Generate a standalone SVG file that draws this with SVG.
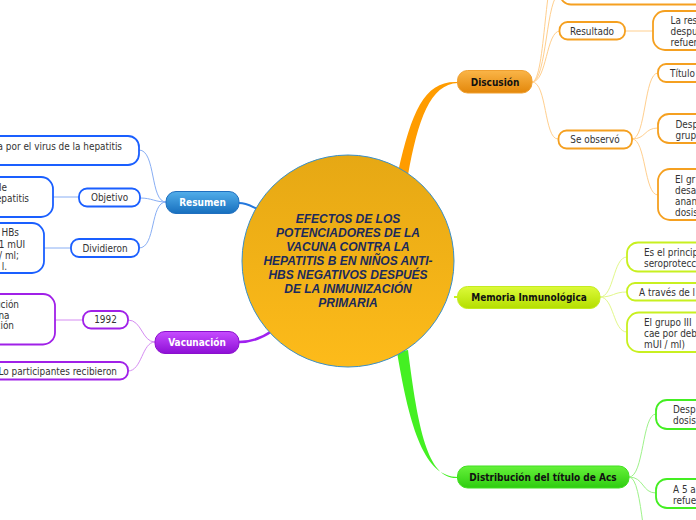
<svg xmlns="http://www.w3.org/2000/svg" width="696" height="520" viewBox="0 0 696 520">
<defs>
<linearGradient id="gC" x1="0" y1="0" x2="0" y2="1"><stop offset="0" stop-color="#E6A814"/><stop offset="1" stop-color="#FDBB1A"/></linearGradient>
<linearGradient id="gB" x1="0" y1="0" x2="0" y2="1"><stop offset="0" stop-color="#52AEEA"/><stop offset="1" stop-color="#176FBE"/></linearGradient>
<linearGradient id="gP" x1="0" y1="0" x2="0" y2="1"><stop offset="0" stop-color="#C64CFF"/><stop offset="1" stop-color="#8E0FD6"/></linearGradient>
<linearGradient id="gO" x1="0" y1="0" x2="0" y2="1"><stop offset="0" stop-color="#FAB548"/><stop offset="1" stop-color="#E3870A"/></linearGradient>
<linearGradient id="gY" x1="0" y1="0" x2="0" y2="1"><stop offset="0" stop-color="#DDFA3A"/><stop offset="1" stop-color="#B4DE00"/></linearGradient>
<linearGradient id="gG" x1="0" y1="0" x2="0" y2="1"><stop offset="0" stop-color="#66F23A"/><stop offset="1" stop-color="#2ECC10"/></linearGradient>
</defs>
<style>
text{font-family:"DejaVu Sans Condensed","DejaVu Sans",sans-serif;font-size:9.9px;fill:#333}
.m{font-weight:bold;font-size:10px;fill:#111;text-anchor:middle}
.mw{font-weight:bold;font-size:10px;fill:#fff;text-anchor:middle}
.c{text-anchor:middle}
.e{text-anchor:end}
.title{font-family:"Liberation Sans",Arial,sans-serif;font-weight:bold;font-style:italic;font-size:12px;fill:#1B2A5C;text-anchor:middle}
.sb{fill:#fff;stroke:#1A5FFF;stroke-width:1.8}
.sp{fill:#fff;stroke:#A020E8;stroke-width:1.8}
.so{fill:#fff;stroke:#F5A020;stroke-width:1.8}
.sy{fill:#fff;stroke:#C8F020;stroke-width:1.8}
.sg{fill:#fff;stroke:#44EE22;stroke-width:1.8}
.lb{fill:none;stroke:#88AEF4;stroke-width:1}
.lp{fill:none;stroke:#D58CF2;stroke-width:1}
.lo{fill:none;stroke:#FFCF8E;stroke-width:1}
.ly{fill:none;stroke:#E2F88A;stroke-width:1}
.lg{fill:none;stroke:#9EF28A;stroke-width:1}
</style>
<g id="connectors">
<path d="M239 203 C248 203 252 207 260 210" fill="none" stroke="#2277DD" stroke-width="2"/>
<path d="M239 342 C252 342 262 338 272 331" fill="none" stroke="#A020F0" stroke-width="2.5"/>
<path d="M398 172 C412 110 425 80 458 82 L458 83 C430 84 418 120 408 175 Z" fill="#FF9C00"/>
<path d="M454 297 L458 297" fill="none" stroke="#C8F020" stroke-width="2"/>
<path d="M397 352 C410 430 425 477 458 477 L458 478 C428 480 418 430 408 350 Z" fill="#44F022"/>
<path class="lb" d="M166 202 C150 202 156 150 139 150"/>
<path class="lb" d="M166 202 C155 202 152 198 140 198"/>
<path class="lb" d="M166 202 C150 202 156 248 139 248"/>
<path class="lb" d="M79 197 L53 197" stroke-width="1.4"/>
<path class="lb" d="M71 248 L44 248" stroke-width="1.4"/>
<path class="lp" d="M155 342 C142 342 142 320 128 320"/>
<path class="lp" d="M155 342 C142 342 142 371 128 371"/>
<path class="lp" d="M83 320 L55 320" stroke-width="1.4"/>
<path class="lo" d="M532 82 C546 82 544 -40 560 -40"/>
<path class="lo" d="M532 82 C547 82 546 -6 560 -6"/>
<path class="lo" d="M532 82 C547 82 546 31 560 31"/>
<path class="lo" d="M532 82 C547 82 544 139 558 139"/>
<path class="lo" d="M625 31 L653 31" stroke-width="2"/>
<path class="lo" d="M632 139 C646 139 644 73 658 73"/>
<path class="lo" d="M632 139 C646 139 644 128 658 128"/>
<path class="lo" d="M632 139 C646 139 644 195 658 195"/>
<path class="ly" d="M600 297 C614 297 613 257 627 257"/>
<path class="ly" d="M600 297 C614 297 613 292 627 292"/>
<path class="ly" d="M600 297 C614 297 613 332 627 332"/>
<path class="lg" d="M629 477 C644 477 642 414 656 414"/>
<path class="lg" d="M629 477 C644 477 642 493 656 493"/>
<path class="lg" d="M629 477 C644 477 642 570 656 570"/>
</g>
<g id="center">
<circle cx="348" cy="261" r="106" fill="url(#gC)" stroke="#3A8FC8" stroke-width="1"/>
<text class="title" x="348" y="222.5">EFECTOS DE LOS</text>
<text class="title" x="348" y="236.5">POTENCIADORES DE LA</text>
<text class="title" x="348" y="250.5">VACUNA CONTRA LA</text>
<text class="title" x="348" y="264.5">HEPATITIS B EN NIÑOS ANTI-</text>
<text class="title" x="348" y="278.5">HBS NEGATIVOS DESPUÉS</text>
<text class="title" x="348" y="292.5">DE LA INMUNIZACIÓN</text>
<text class="title" x="348" y="306.5">PRIMARIA</text>
</g>
<g id="resumen">
<rect x="166" y="191.5" width="73" height="22" rx="10" fill="url(#gB)" stroke="#1F6FBF" stroke-width="1"/>
<text class="mw" x="202.5" y="206">Resumen</text>
</g>
<g id="r1">
<rect class="sb" x="-40" y="136" width="179" height="29" rx="11"/>
<text class="e" x="122" y="149.5">a por el virus de la hepatitis</text>
</g>
<g id="objetivo">
<rect class="sb" x="79" y="188.5" width="61" height="18" rx="8"/>
<text class="c" x="109.5" y="201">Objetivo</text>
</g>
<g id="r2">
<rect class="sb" x="-40" y="177" width="93" height="40" rx="12"/>
<text class="e" x="7" y="190.5">le</text>
<text class="e" x="29" y="201.5">epatitis</text>
</g>
<g id="dividieron">
<rect class="sb" x="71" y="239" width="68" height="18" rx="8"/>
<text class="c" x="105" y="251.5">Dividieron</text>
</g>
<g id="r3">
<rect class="sb" x="-40" y="223" width="84" height="50" rx="12"/>
<text class="e" x="19" y="236">HBs</text>
<text class="e" x="25" y="247.5">1 mUI</text>
<text class="e" x="19" y="258.5">/ ml;</text>
<text class="e" x="7" y="269.5">l.</text>
</g>
<g id="vacunacion">
<rect x="155" y="331.5" width="84" height="22" rx="10" fill="url(#gP)" stroke="#8A10CC" stroke-width="1"/>
<text class="mw" x="197" y="346">Vacunación</text>
</g>
<g id="n1992">
<rect class="sp" x="83" y="311" width="45" height="17.5" rx="8"/>
<text class="c" x="105.5" y="323">1992</text>
</g>
<g id="v1">
<rect class="sp" x="-40" y="294" width="95" height="50.5" rx="12"/>
<text class="e" x="19" y="307.5">ución</text>
<text class="e" x="9.5" y="318.5">na</text>
<text class="e" x="14" y="329">ción</text>
</g>
<g id="v2">
<rect class="sp" x="-40" y="362" width="168" height="17.5" rx="8"/>
<text class="e" x="117" y="374.5">Lo participantes recibieron</text>
</g>
<g id="discusion">
<rect x="457.5" y="70.5" width="74.5" height="22.5" rx="10" fill="url(#gO)" stroke="#F0A030" stroke-width="1"/>
<text class="m" x="495" y="85.5">Discusión</text>
</g>
<g id="d0">
<rect class="so" x="560" y="-30" width="160" height="34.5" rx="11"/>
</g>
<g id="resultado">
<rect class="so" x="559.5" y="22" width="65.5" height="17.5" rx="8"/>
<text class="c" x="592" y="34.5">Resultado</text>
</g>
<g id="d1">
<rect class="so" x="653" y="11" width="80" height="39" rx="12"/>
<text x="670.5" y="23.5">La res</text>
<text x="670.5" y="34.5">despu</text>
<text x="670.5" y="45.5">refuer</text>
</g>
<g id="seobservo">
<rect class="so" x="558.5" y="130.5" width="73.5" height="18" rx="8"/>
<text class="c" x="595" y="143">Se observó</text>
</g>
<g id="d2">
<rect class="so" x="658" y="64" width="80" height="18" rx="8"/>
<text x="670" y="76.5">Título</text>
</g>
<g id="d3">
<rect class="so" x="658" y="114" width="80" height="29" rx="11"/>
<text x="675.5" y="127.5">Desp</text>
<text x="675.5" y="138.5">grup</text>
</g>
<g id="d4">
<rect class="so" x="658" y="169" width="80" height="51" rx="12"/>
<text x="675" y="182.5">El gr</text>
<text x="675" y="193.5">desa</text>
<text x="675" y="204.5">anan</text>
<text x="675" y="215.5">dosis</text>
</g>
<g id="memoria">
<rect x="457.5" y="286.5" width="142.5" height="22" rx="10" fill="url(#gY)" stroke="#C4EC20" stroke-width="1"/>
<text class="m" x="529" y="301">Memoria Inmunológica</text>
</g>
<g id="m1">
<rect class="sy" x="627" y="242.5" width="100" height="29" rx="11"/>
<text x="644" y="255.5">Es el princip</text>
<text x="644" y="266.5">seroprotecc</text>
</g>
<g id="m2">
<rect class="sy" x="627" y="283" width="100" height="17.5" rx="8"/>
<text x="639" y="295.5">A través de l</text>
</g>
<g id="m3">
<rect class="sy" x="627" y="312.5" width="100" height="39.5" rx="12"/>
<text x="644" y="325.5">El grupo III</text>
<text x="644" y="336.5">cae por deb</text>
<text x="644" y="347.5">mUI / ml)</text>
</g>
<g id="distribucion">
<rect x="457.5" y="466" width="171.5" height="22" rx="10" fill="url(#gG)" stroke="#40E020" stroke-width="1"/>
<text class="m" x="543" y="480.5">Distribución del título de Acs</text>
</g>
<g id="g1">
<rect class="sg" x="656" y="400" width="80" height="29" rx="11"/>
<text x="673" y="412.5">Desp</text>
<text x="673" y="423.5">dosis</text>
</g>
<g id="g2">
<rect class="sg" x="656" y="479" width="80" height="29" rx="11"/>
<text x="673" y="492.5">A 5 a</text>
<text x="673" y="503.5">refue</text>
</g>
</svg>
